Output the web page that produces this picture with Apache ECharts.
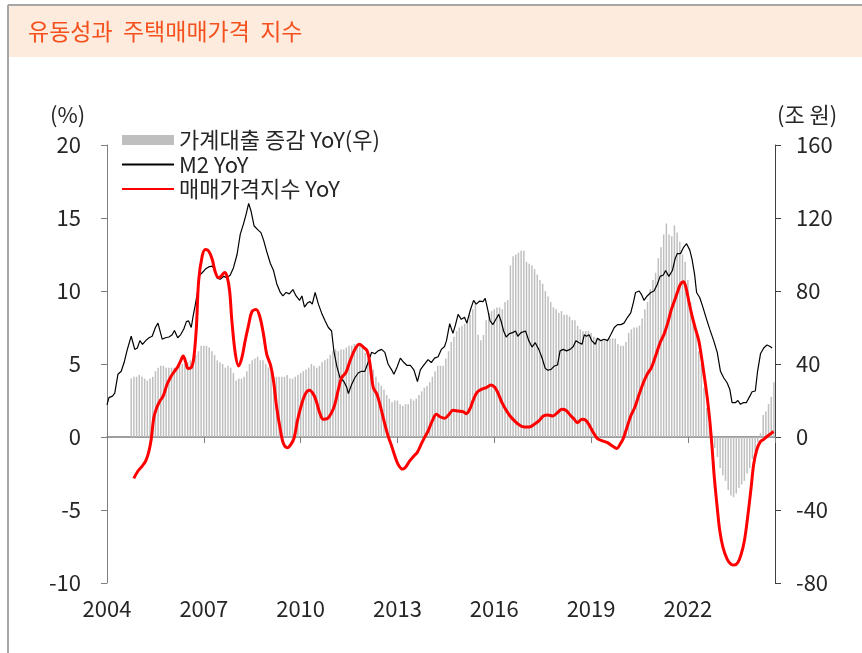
<!DOCTYPE html>
<html>
<head>
<meta charset="utf-8">
<script src="https://cdn.jsdelivr.net/npm/echarts@6/dist/echarts.min.js"></script>
<style>
html,body{margin:0;padding:0;background:#fff;}
#chart{width:862px;height:653px;}
</style>
</head>
<body>
<div id="chart"></div>
<script>
// ---- Data ----
const titleText = '유동성과  주택매매가격  지수';
const seriesNames = ['가계대출 증감 YoY(우)', 'M2 YoY', '매매가격지수 YoY'];
const xTickYears = [2004, 2007, 2010, 2013, 2016, 2019, 2022];

// Household loan change YoY (조 원), monthly from Oct 2004 to Sep 2024
const loanStart = [2004, 10];
const loanChange = [
  32, 33, 33,
  34, 33, 32, 31, 32, 33, 36, 38, 39, 39, 38, 38,
  38, 38, 38, 39, 40, 40, 41, 42, 42, 45, 47, 50,
  50, 50, 49, 47, 45, 42, 41, 40, 38, 39, 38, 35,
  31, 32, 32, 33, 36, 40, 42, 43, 44, 42, 42, 40,
  38, 36, 33, 33, 33, 33, 33, 34, 32, 32, 33, 34,
  35, 36, 37, 38, 40, 39, 38, 39, 41, 42, 43, 45,
  47, 48, 47, 48, 48, 49, 50, 50, 51, 51, 50, 49,
  46, 43, 41, 37, 33, 30, 28, 26, 23, 21, 19, 20,
  20, 18, 17, 18, 18, 21, 20, 21, 23, 25, 27, 28,
  30, 33, 36, 39, 39, 39, 43, 47, 52, 55, 58, 60,
  61, 62, 64, 67, 70, 73, 56, 53, 56, 64, 68, 69,
  70, 71, 71, 70, 74, 75, 94, 99, 100, 101, 102, 102,
  96, 95, 94, 92, 89, 86, 84, 80, 77, 74, 71, 70,
  68, 69, 67, 67, 66, 64, 64, 61, 59, 58, 58, 58,
  57, 55, 54, 54, 53, 53, 53, 54, 54, 54, 51, 50,
  50, 52, 57, 59, 60, 60, 61, 65, 70, 74, 81, 86,
  90, 98, 104, 111, 117, 111, 110, 116, 112, 107, 100, 96,
  86, 74, 64, 56, 47, 40, 27, 16, 7, 1, -6, -11,
  -17, -21, -24, -29, -32, -33, -31, -28, -26, -24, -20, -17,
  -12, -8, -3, 2, 12, 14, 18, 22, 30
];

// M2 YoY (%), [decimal year, value]
const m2 = [
  [2004.0,2.2],[2004.06,2.7],[2004.17,2.8],[2004.24,3.0],[2004.34,4.3],[2004.44,4.5],[2004.53,5.1],[2004.63,6.0],
  [2004.75,6.9],[2004.86,6.0],[2004.94,6.1],[2005.02,6.6],[2005.1,6.35],[2005.2,6.6],[2005.3,6.8],[2005.4,6.9],
  [2005.5,7.5],[2005.58,7.8],[2005.64,7.7],[2005.71,6.7],[2005.81,6.8],[2005.92,6.85],[2006.02,7.0],[2006.09,7.3],
  [2006.19,6.8],[2006.28,7.0],[2006.38,7.4],[2006.46,7.9],[2006.53,7.95],[2006.61,7.5],[2006.67,8.3],[2006.74,9.1],
  [2006.81,10.0],[2006.87,11.1],[2006.95,11.25],[2007.05,11.5],[2007.15,11.65],[2007.26,11.7],[2007.33,11.5],
  [2007.41,10.9],[2007.51,10.8],[2007.62,11.0],[2007.72,10.9],[2007.82,11.1],[2007.92,11.6],[2008.03,12.5],
  [2008.13,13.9],[2008.23,14.6],[2008.31,15.25],[2008.39,16.0],[2008.46,15.5],[2008.56,14.45],[2008.67,14.2],
  [2008.77,14.0],[2008.85,13.5],[2008.95,12.7],[2009.06,11.9],[2009.16,11.4],
  [2009.26,10.5],[2009.37,9.9],[2009.45,9.66],[2009.55,9.9],[2009.65,9.8],[2009.76,10.1],[2009.86,9.66],
  [2009.97,9.36],[2010.04,9.66],[2010.12,8.9],[2010.22,9.2],[2010.29,9.27],[2010.36,9.1],[2010.45,9.9],
  [2010.55,9.1],[2010.65,8.5],[2010.76,7.95],[2010.86,7.5],[2010.96,7.26],[2011.03,5.9],[2011.12,4.86],
  [2011.22,4.06],[2011.34,3.8],[2011.43,3.4],[2011.48,2.97],[2011.58,3.6],[2011.68,4.06],[2011.79,4.4],
  [2011.89,4.5],[2011.99,4.5],[2012.09,5.1],[2012.2,5.8],[2012.3,5.7],[2012.4,5.9],[2012.51,6.0],[2012.61,5.8],
  [2012.71,5.0],[2012.82,4.6],[2012.89,4.3],[2012.99,4.8],[2013.09,5.4],[2013.2,5.1],[2013.3,4.9],[2013.4,4.9],
  [2013.51,4.6],[2013.62,3.8],[2013.71,4.6],[2013.81,4.9],[2013.95,5.3],[2014.05,5.1],[2014.15,5.4],
  [2014.26,5.5],[2014.36,6.0],[2014.46,6.2],
  [2014.52,6.6],[2014.62,7.76],[2014.72,7.1],[2014.8,7.7],[2014.88,8.4],[2014.98,8.06],[2015.08,8.2],
  [2015.15,7.8],[2015.26,8.7],[2015.36,9.36],[2015.44,9.1],[2015.54,9.3],[2015.65,9.27],[2015.72,9.5],
  [2015.8,8.7],[2015.87,7.95],[2015.96,7.7],[2016.06,8.1],[2016.14,8.4],[2016.21,7.95],[2016.29,7.26],
  [2016.37,6.85],[2016.47,7.08],[2016.57,7.15],[2016.66,7.26],[2016.73,6.9],[2016.83,7.15],[2016.97,7.26],
  [2017.07,6.6],[2017.17,6.16],[2017.27,6.46],[2017.38,6.0],[2017.48,5.43],[2017.58,4.7],[2017.66,4.57],
  [2017.76,4.63],[2017.86,4.86],[2017.96,4.93],[2018.04,5.9],[2018.14,6.0],[2018.24,5.9],[2018.35,6.0],
  [2018.45,6.2],[2018.53,6.6],[2018.63,6.46],[2018.72,6.35],[2018.79,7.0],[2018.86,6.9],[2018.94,7.0],
  [2019.02,6.6],[2019.13,6.35],[2019.2,6.76],[2019.3,6.6],[2019.41,6.7],[2019.51,6.6],
  [2019.61,7.0],[2019.72,7.5],[2019.82,7.7],[2019.92,7.7],[2020.02,7.8],[2020.13,8.2],[2020.23,8.5],
  [2020.31,9.2],[2020.38,9.9],[2020.49,10.0],[2020.56,9.77],[2020.64,9.36],[2020.74,9.66],[2020.85,9.9],
  [2020.95,10.0],[2021.05,10.45],[2021.14,11.0],[2021.24,11.1],[2021.31,11.4],[2021.41,11.0],[2021.52,11.4],
  [2021.6,12.17],[2021.67,12.56],[2021.77,12.56],[2021.86,12.97],[2021.96,13.24],[2022.06,12.8],
  [2022.13,12.17],[2022.21,11.1],[2022.27,9.9],[2022.37,9.54],[2022.47,8.86],[2022.58,8.06],[2022.68,7.37],
  [2022.8,6.6],[2022.91,5.8],[2023.01,4.5],[2023.11,4.06],[2023.22,3.7],[2023.3,3.26],[2023.37,2.35],
  [2023.47,2.35],[2023.55,2.5],[2023.63,2.24],[2023.71,2.35],[2023.81,2.35],[2023.92,2.8],[2023.99,3.1],
  [2024.09,3.15],[2024.16,4.5],[2024.25,5.7],[2024.35,6.1],[2024.45,6.3],[2024.55,6.2],[2024.61,6.1]
];

// Housing sale price index YoY (%), [decimal year, value]
const hpi = [
  [2004.83,-2.83],[2004.96,-2.33],[2005.09,-1.99],[2005.2,-1.64],[2005.3,-0.96],[2005.37,-0.16],[2005.45,1.32],
  [2005.54,2.0],[2005.64,2.47],[2005.74,2.8],[2005.86,3.6],[2005.97,4.1],[2006.09,4.5],[2006.19,4.8],
  [2006.28,5.2],[2006.36,5.55],[2006.43,5.2],[2006.51,4.7],[2006.61,4.75],[2006.69,5.43],[2006.77,7.5],
  [2006.84,10.7],[2006.95,12.4],[2007.05,12.85],[2007.15,12.74],[2007.26,12.17],[2007.36,11.26],
  [2007.46,10.9],[2007.53,11.0],[2007.64,11.26],[2007.72,11.0],[2007.8,10.0],[2007.87,7.95],[2007.98,5.66],
  [2008.08,4.86],[2008.18,5.43],[2008.28,6.58],[2008.39,7.7],[2008.49,8.58],[2008.62,8.74],[2008.73,8.29],
  [2008.85,7.03],[2008.95,5.66],[2009.07,4.9],[2009.16,3.84],[2009.26,2.0],[2009.37,0.53],[2009.47,-0.46],
  [2009.59,-0.73],[2009.7,-0.5],[2009.8,-0.05],[2009.9,1.1],[2010.0,2.0],[2010.14,2.92],[2010.27,3.2],
  [2010.4,2.92],[2010.5,2.35],[2010.6,1.6],[2010.7,1.21],[2010.83,1.26],[2010.96,1.67],[2011.06,2.24],
  [2011.17,3.26],[2011.27,4.06],[2011.4,4.4],[2011.53,5.2],[2011.68,6.0],[2011.82,6.35],[2011.94,6.16],
  [2012.06,5.9],[2012.15,5.0],[2012.25,3.4],[2012.37,2.9],[2012.51,1.78],[2012.61,0.87],[2012.71,0.07],
  [2012.82,-0.62],[2012.92,-1.3],[2013.02,-1.87],[2013.16,-2.2],[2013.26,-2.05],[2013.38,-1.64],
  [2013.51,-1.3],[2013.61,-1.07],[2013.71,-0.62],[2013.81,-0.16],[2013.95,0.41],[2014.08,1.1],[2014.21,1.55],
  [2014.33,1.37],[2014.46,1.28],[2014.6,1.55],[2014.72,1.83],[2014.88,1.78],[2015.03,1.74],[2015.13,1.6],
  [2015.24,1.9],[2015.34,2.47],[2015.46,3.04],[2015.6,3.26],[2015.75,3.38],[2015.9,3.56],[2016.01,3.42],
  [2016.11,3.04],[2016.24,2.35],[2016.37,1.83],[2016.49,1.44],[2016.63,1.1],[2016.78,0.82],[2016.93,0.68],
  [2017.09,0.68],[2017.24,0.87],[2017.4,1.14],[2017.52,1.44],[2017.66,1.51],[2017.81,1.44],[2017.96,1.67],
  [2018.1,1.9],[2018.22,1.83],[2018.35,1.51],[2018.48,1.21],[2018.58,0.98],[2018.72,1.21],[2018.84,1.14],
  [2018.96,0.75],[2019.07,0.3],[2019.2,-0.11],[2019.35,-0.27],[2019.51,-0.39],[2019.66,-0.62],[2019.8,-0.78],
  [2019.9,-0.5],[2020.0,-0.09],[2020.11,0.64],[2020.23,1.44],[2020.35,2.0],[2020.49,2.92],[2020.62,3.72],
  [2020.74,4.3],[2020.87,4.75],[2021.0,5.55],[2021.14,6.46],[2021.26,7.03],[2021.38,7.83],[2021.49,8.74],
  [2021.59,9.36],[2021.69,10.0],[2021.77,10.46],[2021.86,10.64],[2021.93,10.34],[2022.03,9.3],[2022.13,8.29],
  [2022.24,7.37],[2022.34,6.58],[2022.41,5.66],[2022.5,4.3],[2022.6,2.7],[2022.68,1.1],[2022.75,-0.73],
  [2022.82,-2.79],[2022.91,-4.84],[2022.99,-6.44],[2023.09,-7.58],[2023.22,-8.38],[2023.34,-8.72],
  [2023.44,-8.77],[2023.55,-8.6],[2023.65,-8.04],[2023.75,-7.12],[2023.85,-5.53],[2023.96,-3.47],
  [2024.04,-1.87],[2024.14,-0.84],[2024.25,-0.32],[2024.35,-0.16],[2024.47,0.07],[2024.61,0.3],[2024.66,0.37]
];

// ---- Chart ----
const FONT = '"Noto Sans CJK KR", "Noto Sans", sans-serif';
const chart = echarts.init(document.getElementById('chart'), null, {renderer: 'canvas'});

const loanData = loanChange.map((v, i) => [loanStart[0] + (loanStart[1] - 1 + i) / 12, v]);

const axisGray = '#7F7F7F';
const labelColor = '#262626';
const FS = 22;

const option = {
  animation: false,
  backgroundColor: '#ffffff',
  textStyle: {fontFamily: FONT},
  graphic: [
    {type: 'rect', z: -10, shape: {x: 8, y: 5, width: 854, height: 52}, style: {fill: '#FDEBDD'}},
    {type: 'line', shape: {x1: 8, y1: 5, x2: 862, y2: 5}, style: {stroke: '#A6A6A6', lineWidth: 2}},
    {type: 'line', shape: {x1: 8, y1: 5, x2: 8, y2: 653}, style: {stroke: '#A6A6A6', lineWidth: 2}},
    {type: 'text', left: 28, top: 20, style: {text: titleText, fill: '#F4511E', font: '23px ' + FONT}},
    {type: 'text', left: 50, top: 104, style: {text: '(%)', fill: labelColor, font: FS + 'px ' + FONT}},
    {type: 'text', left: 777, top: 104, style: {text: '(조 원)', fill: labelColor, font: FS + 'px ' + FONT}}
  ],
  legend: {
    orient: 'vertical',
    left: 121,
    top: 129,
    itemWidth: 52,
    itemHeight: 10,
    itemGap: 2.5,
    padding: 0,
    textStyle: {fontSize: FS, color: labelColor, fontFamily: FONT},
    data: [
      {name: seriesNames[0], icon: 'rect'},
      {name: seriesNames[1], itemStyle: {opacity: 0}},
      {name: seriesNames[2], itemStyle: {opacity: 0}}
    ]
  },
  grid: {left: 107, right: 87, top: 145, bottom: 70, containLabel: false},
  xAxis: [
    {
      type: 'value', min: 2004, max: 2024.7, interval: 3, position: 'bottom',
      axisLine: {show: false, onZero: false},
      axisTick: {show: false},
      splitLine: {show: false},
      axisLabel: {
        fontSize: FS, color: labelColor, margin: 15, fontFamily: FONT,
        formatter: v => (xTickYears.indexOf(Math.round(v * 100) / 100) >= 0 ? String(v) : '')
      }
    },
    {
      type: 'value', min: 2004, max: 2024.7, interval: 3, position: 'bottom',
      axisLine: {show: true, onZero: true, onZeroAxisIndex: 0, lineStyle: {color: axisGray, width: 1.5}},
      axisTick: {show: true, inside: false, length: 6, lineStyle: {color: axisGray}},
      splitLine: {show: false},
      axisLabel: {show: false}
    }
  ],
  yAxis: [
    {
      type: 'value', min: -10, max: 20, interval: 5, position: 'left',
      axisLine: {show: true, onZero: false, lineStyle: {color: axisGray}},
      axisTick: {show: true, inside: false, length: 6, lineStyle: {color: axisGray}},
      splitLine: {show: false},
      axisLabel: {fontSize: FS, color: labelColor, margin: 26, fontFamily: FONT}
    },
    {
      type: 'value', min: -80, max: 160, interval: 40, position: 'right',
      axisLine: {show: true, onZero: false, lineStyle: {color: '#404040'}},
      axisTick: {show: true, inside: false, length: 6, lineStyle: {color: '#404040'}},
      splitLine: {show: false},
      axisLabel: {fontSize: FS, color: labelColor, margin: 21, fontFamily: FONT}
    }
  ],
  series: [
    {
      name: seriesNames[0], type: 'bar', xAxisIndex: 0, yAxisIndex: 1,
      data: loanData, barWidth: 1.5,
      itemStyle: {color: '#BFBFBF'}, z: 1
    },
    {
      name: seriesNames[1], type: 'line', xAxisIndex: 0, yAxisIndex: 0,
      data: m2, symbol: 'none', showSymbol: false,
      lineStyle: {color: '#000000', width: 1.2}, itemStyle: {color: '#000000'}, z: 3
    },
    {
      name: seriesNames[2], type: 'line', xAxisIndex: 0, yAxisIndex: 0,
      data: hpi, symbol: 'none', showSymbol: false, smooth: 0.35,
      lineStyle: {color: '#FF0000', width: 3}, itemStyle: {color: '#FF0000'}, z: 4
    }
  ]
};
chart.setOption(option);
</script>
</body>
</html>
